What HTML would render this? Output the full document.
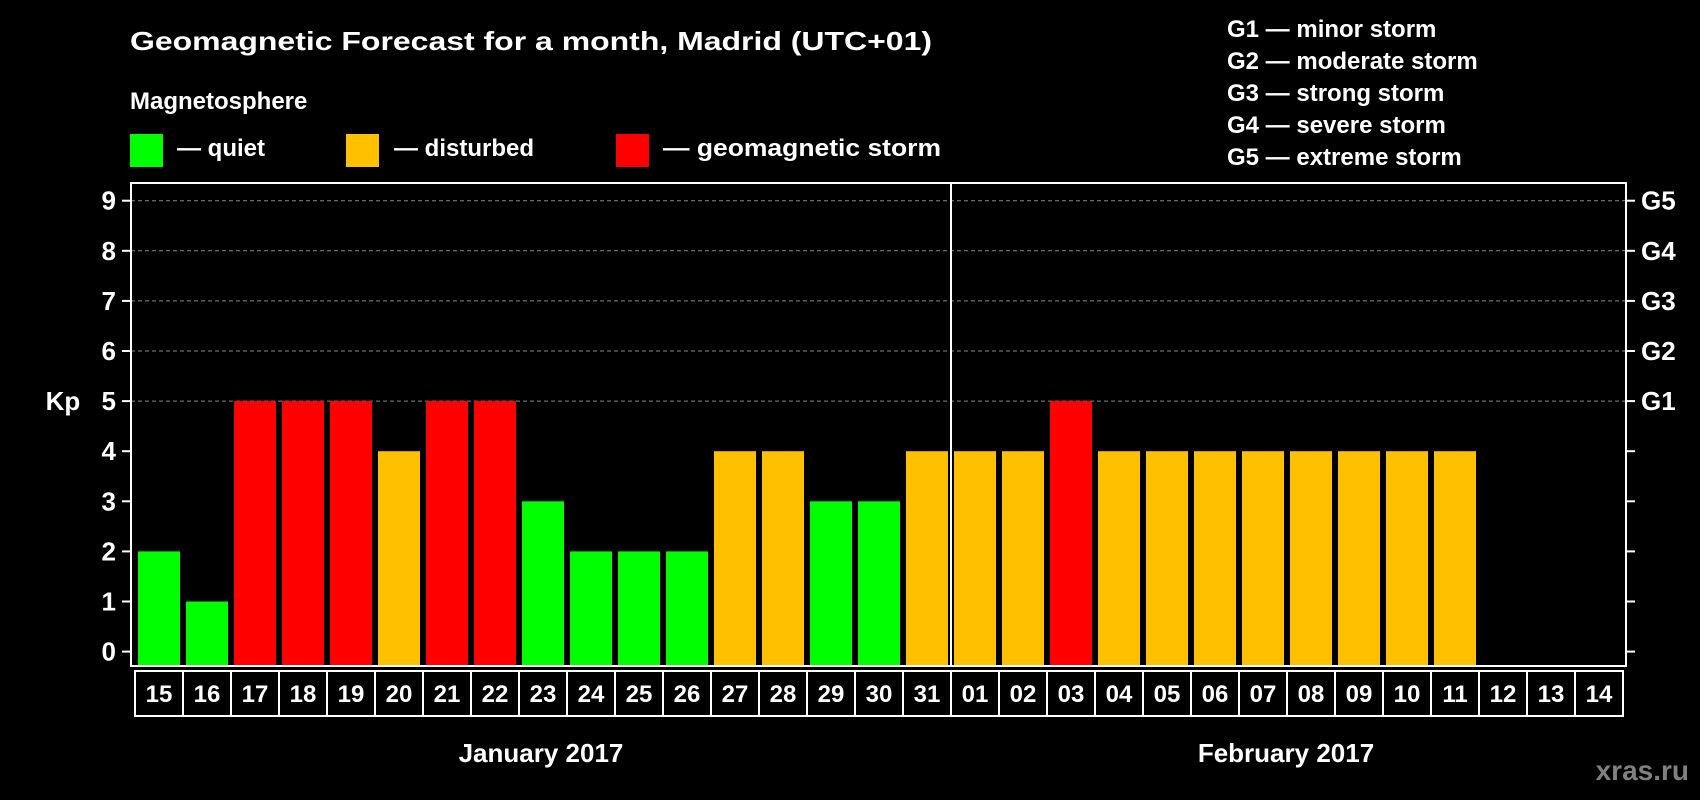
<!DOCTYPE html>
<html><head><meta charset="utf-8"><style>
html,body{margin:0;padding:0;background:#000;}
svg{display:block;font-family:"Liberation Sans",Arial,sans-serif;font-weight:bold;}
</style></head><body>
<svg id="chart" width="1700" height="800" viewBox="0 0 1700 800" xmlns="http://www.w3.org/2000/svg">
<rect x="0" y="0" width="1700" height="800" fill="#000"/>
<text x="130" y="50" font-size="26" fill="#fff" textLength="802" lengthAdjust="spacingAndGlyphs">Geomagnetic Forecast for a month, Madrid (UTC+01)</text>
<text x="130" y="109" font-size="24" fill="#fff">Magnetosphere</text>
<g>
<rect x="130" y="134" width="33" height="33" fill="#00ff00"/>
<text x="177" y="156" font-size="24" fill="#fff">— quiet</text></g>
<g>
<rect x="346" y="134" width="33" height="33" fill="#ffc000"/>
<text x="394" y="156" font-size="24" fill="#fff">— disturbed</text></g>
<g>
<rect x="616" y="134" width="33" height="33" fill="#ff0000"/>
<text x="663" y="156" font-size="24" fill="#fff" textLength="278" lengthAdjust="spacingAndGlyphs">— geomagnetic storm</text></g>
<g font-size="24" fill="#fff">
<text x="1227" y="37">G1 — minor storm</text>
<text x="1227" y="69">G2 — moderate storm</text>
<text x="1227" y="101">G3 — strong storm</text>
<text x="1227" y="133">G4 — severe storm</text>
<text x="1227" y="165">G5 — extreme storm</text>
</g>
<g id="grid"></g>
<g id="bars"></g>
<g id="axes"></g>
<text x="63" y="410" font-size="26" fill="#fff" text-anchor="middle">Kp</text>
<text x="541" y="762" font-size="26" fill="#fff" text-anchor="middle">January 2017</text>
<text x="1286" y="762" font-size="26" fill="#fff" text-anchor="middle">February 2017</text>
<text x="1689" y="780" font-size="28" fill="#808080" text-anchor="end">xras.ru</text>
</svg>
<script>
const days = ["15","16","17","18","19","20","21","22","23","24","25","26","27","28","29","30","31","01","02","03","04","05","06","07","08","09","10","11","12","13","14"];
const kpValues = [2,1,5,5,5,4,5,5,3,2,2,2,4,4,3,3,4,4,4,5,4,4,4,4,4,4,4,4,null,null,null];
const yTicks = [0,1,2,3,4,5,6,7,8,9];
const gLabels = ["G1","G2","G3","G4","G5"];
const gLevels = [5,6,7,8,9];

const NS="http://www.w3.org/2000/svg";
const plotL=131, plotR=1626, plotT=183, plotB=666;
const slot0=135, slotW=48, barW=42;
const y0=651.6, unit=50.1;
function yScale(v){return y0 - v*unit;}
function xScale(i){return slot0 + i*slotW;}
function mk(tag,attrs,parent){const e=document.createElementNS(NS,tag);for(const k in attrs)e.setAttribute(k,attrs[k]);parent.appendChild(e);return e;}
function colorFor(v){return v>=5?"#ff0000":(v>=4?"#ffc000":"#00ff00");}

const grid=document.getElementById("grid"), bars=document.getElementById("bars"), axes=document.getElementById("axes");
gLevels.forEach((lv,i)=>{
  const l=mk("line",{x1:plotL,x2:plotR,y1:yScale(lv),y2:yScale(lv),stroke:"#888","stroke-width":1,"stroke-dasharray":"4,3"},grid);
  
  
  const t=mk("text",{x:1641,y:yScale(lv)+9,"font-size":26,fill:"#fff"},axes);
  t.textContent=gLabels[i];
  
  
});
kpValues.forEach((v,i)=>{
  if(v===null)return;
  const r=mk("rect",{x:xScale(i)+3,y:yScale(v),width:barW,height:plotB-yScale(v),fill:colorFor(v)},bars);
  
  
});
const frame=mk("rect",{x:plotL,y:plotT,width:plotR-plotL,height:plotB-plotT,fill:"none",stroke:"#fff","stroke-width":2},axes);


const div=mk("line",{x1:xScale(17),x2:xScale(17),y1:plotT,y2:plotB,stroke:"#fff","stroke-width":2},axes);


yTicks.forEach(v=>{
  const y=yScale(v);
  const tl=mk("line",{x1:122,x2:plotL,y1:y,y2:y,stroke:"#fff","stroke-width":2},axes);
  
  
  const tr=mk("line",{x1:plotR,x2:1635,y1:y,y2:y,stroke:"#fff","stroke-width":2},axes);
  
  
  const t=mk("text",{x:116,y:y+9,"font-size":26,fill:"#fff","text-anchor":"end"},axes);
  t.textContent=String(v);
  
  
});
const boxTop=671, boxBot=716;
days.forEach((d,i)=>{
  const r=mk("rect",{x:xScale(i),y:boxTop,width:slotW,height:boxBot-boxTop,fill:"#000",stroke:"#fff","stroke-width":2},axes);
  
  
  const t=mk("text",{x:xScale(i)+slotW/2,y:702,"font-size":24,fill:"#fff","text-anchor":"middle"},axes);
  t.textContent=d;
  
  
});
</script>
</body></html>
